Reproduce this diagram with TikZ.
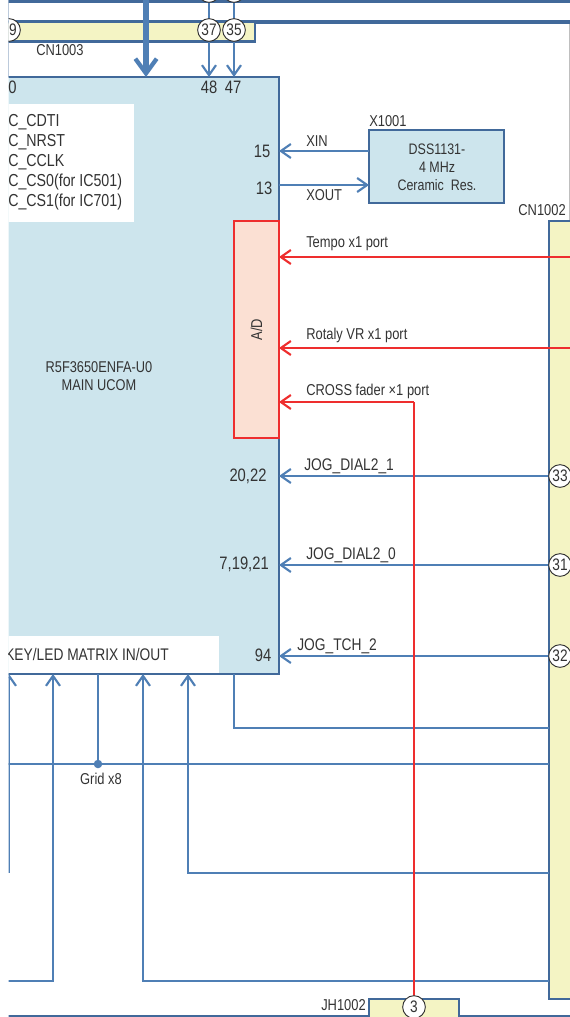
\documentclass[tikz,border=0pt]{standalone}
\usepackage{fontspec}
\setmainfont[FakeStretch=0.82]{Liberation Sans}
\usetikzlibrary{positioning}
\usetikzlibrary{arrows.meta}
\definecolor{linkblue}{HTML}{4F7FB5}
\definecolor{edgeblue}{HTML}{41699A}
\definecolor{ucomfill}{HTML}{CDE5ED}
\definecolor{connfill}{HTML}{F4F4C4}
\definecolor{adfill}{HTML}{FBE0D3}
\definecolor{sigred}{HTML}{EE2E2E}
\definecolor{inktext}{HTML}{333333}
\tikzset{
    box/.style={draw=edgeblue,line width=1.7pt,inner sep=0pt,outer sep=0pt,anchor=north west},
    conn/.style={box,fill=connfill},
    num/.style={circle,draw=black!80,fill=white,line width=0.7pt,minimum size=17pt,inner sep=0pt,font=\fontsize{12.5}{14}\selectfont,text=inktext},
    txt/.style={inner sep=0pt,text=inktext,font=\fontsize{11.8}{14}\selectfont},
    pinno/.style={txt,font=\fontsize{13.5}{16}\selectfont},
    link/.style={draw=linkblue,line width=1.9pt,-{Straight Barb[length=7.5pt,width=10.5pt,line width=1.6pt]}},
    wire/.style={draw=linkblue,line width=1.9pt},
    redlink/.style={draw=sigred,line width=1.9pt,-{Straight Barb[length=7.5pt,width=10.5pt,line width=1.6pt]}},
    redwire/.style={draw=sigred,line width=1.9pt}
}
\begin{document}
\begin{tikzpicture}[x=0.75pt,y=-0.75pt]
    \useasboundingbox (0,0) rectangle (570,1017);
    \begin{scope}
    \clip (8.5,-20) rectangle (570,1017);
    % frame
    \draw[draw=edgeblue,line width=0.9pt] (8.8,0) -- (8.8,77);
    \draw[draw=black!25,line width=0.8pt] (569.5,22) -- (569.5,221);
    \draw[draw=edgeblue,line width=3pt] (8,1) -- (570,1);
    \draw[draw=edgeblue,line width=3pt] (8,22) -- (570,22);
    \draw[draw=edgeblue,line width=1.7pt] (8,1016.5) -- (570,1016.5);

    % connectors and blocks
    \node (CN1003)[conn,minimum width=258*0.75pt,minimum height=19.5*0.75pt] at (-3,22) {};
    \node (MainUcom)[box,fill=ucomfill,minimum width=290*0.75pt,minimum height=597*0.75pt] at (-11,77) {};
    \node (CmdBox)[fill=white,inner sep=0pt,minimum width=135*0.75pt,minimum height=118*0.75pt,anchor=north west] at (-1,104) {};
    \node (KeyBox)[fill=white,inner sep=0pt,minimum width=230*0.75pt,minimum height=37*0.75pt,anchor=north west] at (-11,636) {};
    \node (AD)[draw=sigred,fill=adfill,line width=1.7pt,inner sep=0pt,outer sep=0pt,minimum width=45*0.75pt,minimum height=217*0.75pt,anchor=north west] at (234,221) {};
    \node (X1001)[box,fill=ucomfill,align=center,minimum width=135*0.75pt,minimum height=73*0.75pt] at (369,130) {};
    \node (CN1002)[conn,minimum width=40*0.75pt,minimum height=778*0.75pt] at (549,221) {};
    \node (JH1002)[conn,minimum width=90*0.75pt,minimum height=30*0.75pt] at (369,999) {};

    % numbered pins
    \node (C39)[num] at (9,30) {\phantom{3}9};
    \node (TopA)[num] at (209,-9) {};
    \node (TopB)[num] at (234,-9) {};
    \node (C33)[num] at (560,476) {33};
    \node (C31)[num] at (560,565) {31};
    \node (C32)[num] at (560,656) {32};

    % free ends
    \coordinate (BusTop) at (146,-5);
    \coordinate (TempoIn) at (570,257);
    \coordinate (RotalyIn) at (570,348);
    \coordinate (XinEnd) at (279,151);
    \coordinate (XoutStart) at (279,185);
    \coordinate (CrossTurn) at (414,402);
    \coordinate (CrossEnd) at (279,402);
    \coordinate (InA) at (9,873);
    \coordinate (InB) at (53,981);
    \coordinate (InBEnd) at (8,981);
    \coordinate (InC) at (143,981);
    \coordinate (InCEnd) at (549,981);
    \coordinate (InD) at (188,873);
    \coordinate (InDEnd) at (549,873);
    \coordinate (OutA) at (234,728);
    \coordinate (OutAEnd) at (549,728);
    \coordinate (GridL) at (8,764);
    \coordinate (GridR) at (549,764);
    \coordinate (GridTop) at (98,674);

    \draw[draw=linkblue,line width=3.8pt,-{Straight Barb[length=11pt,width=16pt,line width=3.2pt]}] (BusTop) -- (BusTop |- MainUcom.north);
    \draw[link] (TopA) -- (TopA |- MainUcom.north);
    \draw[link] (TopB) -- (TopB |- MainUcom.north);
    \node (C37)[num] at (209,30) {37};
    \node (C35)[num] at (234,30) {35};

    \draw[link] (X1001.west |- XinEnd) -- (XinEnd);
    \draw[link] (XoutStart) -- (X1001.west |- XoutStart);

    \draw[link] (C33) -- (C33 -| MainUcom.east);
    \draw[link] (C31) -- (C31 -| MainUcom.east);
    \draw[link] (C32) -- (C32 -| MainUcom.east);

    \draw[link] (InA) -- (InA |- MainUcom.south);
    \draw[link] (InBEnd) -- (InB) -- (InB |- MainUcom.south);
    \draw[link] (InCEnd) -- (InC) -- (InC |- MainUcom.south);
    \draw[link] (InDEnd) -- (InD) -- (InD |- MainUcom.south);
    \draw[wire] (OutA |- MainUcom.south) -- (OutA) -- (OutAEnd);
    \draw[wire] (GridL) -- (GridR);
    \draw[wire] (GridTop) -- (GridTop |- GridL);
    \fill[linkblue] (GridTop |- GridL) circle (3.2pt);

    \draw[redlink] (TempoIn) -- (TempoIn -| AD.east);
    \draw[redlink] (RotalyIn) -- (RotalyIn -| AD.east);
    \draw[redwire] (414,999) -- (CrossTurn);
    \draw[redlink] (CrossTurn) -- (CrossEnd);
    \node (C3)[num] at (414,1007) {3};

    % texts
    \node (L0)[pinno,anchor=west] at (8,87) {0};
    \node (L48)[pinno] at (209,87) {48};
    \node (L47)[pinno] at (233,87) {47};
    \node (L15)[pinno] at (262,151) {15};
    \node (L13)[pinno] at (264,188) {13};
    \node (L2022)[pinno] at (248,476) {20,22};
    \node (L71921)[pinno,anchor=east] at (269,564.5) {7,19,21};
    \node (L94)[pinno] at (263,655) {94};
    \node (LCn1003)[txt,anchor=west] at (36,50) {CN1003};
    \node (LCmd)[pinno,align=left,anchor=west,font=\fontsize{13}{15}\selectfont] at (8,162) {C\_CDTI\\C\_NRST\\C\_CCLK\\C\_CS0(for IC501)\\C\_CS1(for IC701)};
    \node (LUcom)[txt,align=center,font=\fontsize{11.7}{13.5}\selectfont] at (99,376) {R5F3650ENFA-U0\\MAIN UCOM};
    \node (LKey)[pinno,anchor=west,font=\fontsize{12.6}{15}\selectfont] at (5,654) {KEY/LED MATRIX IN/OUT};
    \node (LGrid)[txt] at (101,779) {Grid x8};
    \node (LX1001)[txt,anchor=west] at (369,121) {X1001};
    \node (LXin)[txt,anchor=west] at (306,141) {XIN};
    \node (LXout)[txt,anchor=west] at (306,195) {XOUT};
    \node (LDss)[txt,align=center,font=\fontsize{11.4}{13.5}\selectfont] at (437,167.5) {DSS1131-\\4 MHz\\Ceramic\ \ Res.};
    \node (LCn1002)[txt,anchor=east] at (566,210) {CN1002};
    \node (LAd)[txt,rotate=90] at (AD.center) {A/D};
    \node (LTempo)[txt,anchor=west] at (306,244) {Tempo x1 port};
    \node (LRotaly)[txt,anchor=west] at (306,335.5) {Rotaly VR x1 port};
    \node (LCross)[txt,anchor=west] at (306,391.5) {CROSS fader ×1 port};
    \node (LDial1)[pinno,anchor=west,font=\fontsize{12.6}{15}\selectfont] at (304,466) {JOG\_DIAL2\_1};
    \node (LDial0)[pinno,anchor=west,font=\fontsize{12.6}{15}\selectfont] at (306,555) {JOG\_DIAL2\_0};
    \node (LTch)[pinno,anchor=west,font=\fontsize{12.6}{15}\selectfont] at (297,646) {JOG\_TCH\_2};
    \node (LJh)[txt,anchor=east] at (366,1005) {JH1002};
    \end{scope}
\end{tikzpicture}
\end{document}
